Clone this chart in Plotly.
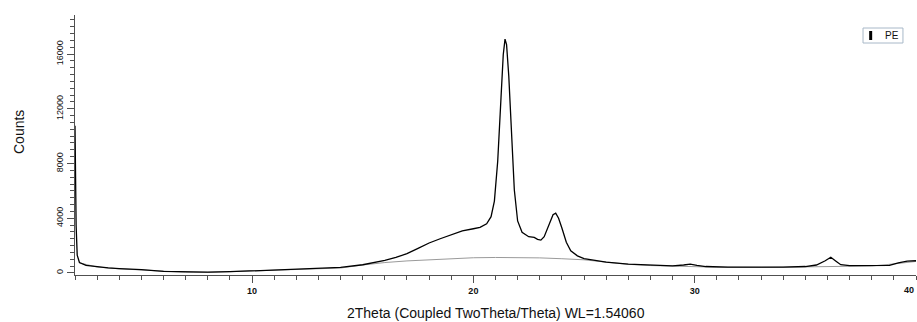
import plotly.graph_objects as go

# PE diffraction pattern
two_theta = [2.00, 2.05, 2.10, 2.20, 2.50, 3.00, 3.50, 4.00, 5.00, 6.00, 7.00, 8.00, 9.00,
             10.0, 11.0, 12.0, 13.0, 14.0, 15.0, 15.5, 16.0, 16.5, 17.0, 17.5, 18.0, 18.5,
             19.0, 19.5, 20.0, 20.3, 20.6, 20.8, 20.95, 21.1, 21.25, 21.35, 21.43, 21.5,
             21.6, 21.72, 21.85, 22.0, 22.2, 22.5, 22.75, 22.9, 23.05, 23.2, 23.4, 23.6,
             23.72, 23.85, 24.0, 24.2, 24.4, 24.7, 25.0, 25.5, 26.0, 27.0, 28.0, 29.0,
             29.5, 29.8, 30.1, 30.5, 31.5, 33.0, 34.0, 35.0, 35.5, 35.9, 36.15, 36.4,
             36.6, 37.0, 38.0, 38.8, 39.2, 39.6, 40.0]
counts = [10750, 3490, 1300, 760, 560, 450, 370, 320, 250, 120, 70, 60, 90,
          150, 190, 230, 300, 400, 600, 730, 910, 1130, 1410, 1790, 2190, 2500,
          2810, 3070, 3230, 3330, 3590, 4110, 5250, 8160, 12830, 15950, 17090, 16680,
          14390, 10240, 6080, 3800, 2970, 2650, 2600, 2450, 2400, 2650, 3490, 4260,
          4370, 4000, 3280, 2240, 1620, 1250, 1040, 890, 790, 650, 560, 520,
          580, 640, 560, 470, 430, 410, 430, 470, 580, 890, 1150, 840,
          600, 530, 540, 560, 730, 870, 890]

bg_theta = [2.2, 3, 4, 5, 6, 7, 8, 10, 12, 14, 15, 16, 17, 18, 19, 20, 21, 22, 23, 24,
            25, 26, 27, 28, 29, 30, 31, 33, 34, 35, 36, 37, 38, 39, 40]
bg_counts = [740, 430, 300, 220, 110, 50, 40, 140, 220, 360, 580, 760, 880, 970, 1050,
             1110, 1130, 1130, 1100, 1040, 960, 790, 630, 540, 490, 460, 420, 400, 420,
             450, 490, 500, 510, 660, 840]

x_tickvals = [5, 10, 15, 20, 25, 30, 35, 40]
x_ticktext = ["", "10", "", "20", "", "30", "", ""]
x_last_label = "40"
y_tickvals = [0, 4000, 8000, 12000, 16000]
y_ticktext = ["0", "4000", "8000", "12000", "16000"]
series_name = "PE"

fig = go.Figure()
fig.add_trace(go.Scatter(x=bg_theta, y=bg_counts, mode="lines",
                         line=dict(color="#9a9a9a", width=1), showlegend=False, hoverinfo="skip"))
fig.add_trace(go.Scatter(x=two_theta, y=counts, mode="lines", name=series_name,
                         line=dict(color="#000000", width=1.3), showlegend=False))

axis_col = "#505050"
fig.update_layout(
    width=917, height=322,
    margin=dict(l=75, r=1, t=15, b=47),
    paper_bgcolor="white", plot_bgcolor="white",
    font=dict(family="Liberation Sans, Arial, sans-serif", color="#111111"),
    xaxis=dict(range=[2, 40], showgrid=False, zeroline=False, showline=True,
               linecolor=axis_col, linewidth=1, ticks="outside", ticklen=7,
               tickcolor=axis_col, tickmode="array", tickvals=x_tickvals, ticktext=x_ticktext,
               tickfont=dict(size=9, weight="bold"),
               minor=dict(tickmode="array", tickvals=list(range(2, 41)), ticks="outside",
                          ticklen=4, tickcolor=axis_col)),
    yaxis=dict(range=[-150, 18850], showgrid=False, zeroline=False, showline=True,
               linecolor=axis_col, linewidth=1, ticks="outside", ticklen=7,
               tickcolor=axis_col, tickmode="array", tickvals=y_tickvals, ticktext=y_ticktext,
               tickangle=-90, tickfont=dict(size=9),
               minor=dict(tickmode="array", tickvals=list(range(0, 18501, 500)), ticks="outside",
                          ticklen=4, tickcolor=axis_col)),
    annotations=[
        dict(text=x_last_label, xref="x", yref="paper", x=x_tickvals[-1], y=-0.058,
             xanchor="right", yanchor="middle", showarrow=False,
             font=dict(size=9, weight="bold")),
        dict(text="2Theta (Coupled TwoTheta/Theta) WL=1.54060", xref="paper", yref="paper",
             x=0.5, y=-0.146, xanchor="center", yanchor="middle", showarrow=False,
             font=dict(size=14)),
        dict(text="Counts", xref="paper", yref="paper", x=-0.0666, y=0.55,
             xanchor="center", yanchor="middle", textangle=-90, showarrow=False,
             font=dict(size=14)),
        dict(text=series_name, xref="paper", yref="paper", x=0.972, y=0.921,
             xanchor="center", yanchor="middle", showarrow=False, font=dict(size=10)),
    ],
    shapes=[
        dict(type="rect", xref="paper", yref="paper", x0=0.937, x1=0.9845, y0=0.8923, y1=0.95,
             line=dict(color="#a8b8c8", width=1), fillcolor="white"),
        dict(type="line", xref="paper", yref="paper", x0=0.9461, x1=0.9461, y0=0.9038, y1=0.9385,
             line=dict(color="black", width=3)),
    ],
)

fig.write_html("out.html", config={"displayModeBar": False},
               post_script="document.body.style.margin='0';document.body.style.overflow='hidden';")
